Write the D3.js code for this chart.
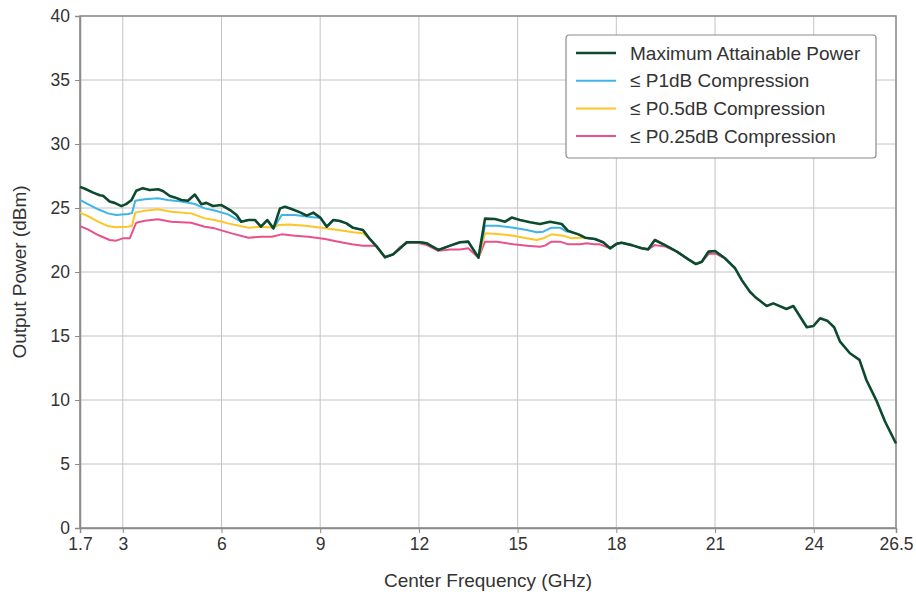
<!DOCTYPE html>
<html>
<head>
<meta charset="utf-8">
<script src="https://cdn.jsdelivr.net/npm/d3@7"></script>
<style>
  body { margin: 0; background: #fff; }
  svg { font-family: Arial, "Liberation Sans", sans-serif; }
  .grid line { stroke: #c4c4c4; stroke-width: 1; }
  .axis text { fill: #333; font-size: 17.5px; }
  .axis path, .axis line { stroke: #8c8c8c; }
</style>
</head>
<body>
<svg width="916" height="592"></svg>
<script>
// Data
const xTicks = [1.7, 3, 6, 9, 12, 15, 18, 21, 24, 26.5];
const yTicks = [0, 5, 10, 15, 20, 25, 30, 35, 40];

const maxFreq = [1.7, 1.85, 2.1, 2.3, 2.4, 2.6, 2.75, 2.96, 3.1, 3.26, 3.41, 3.61, 3.82, 4.07, 4.22, 4.43, 4.58, 4.78, 4.98, 5.19,
  5.39, 5.54, 5.74, 6.0, 6.3, 6.46, 6.6, 6.82, 7.02, 7.2, 7.39, 7.58, 7.78, 7.93, 8.13, 8.39, 8.59, 8.79, 9.0, 9.2,
  9.4, 9.6, 9.8, 10.0, 10.3, 10.5, 10.72, 10.97, 11.22, 11.43, 11.63, 11.83, 12.03, 12.24, 12.59, 12.95, 13.25, 13.5, 13.81, 14.01,
  14.31, 14.62, 14.82, 15.07, 15.38, 15.68, 15.99, 16.34, 16.54, 16.85, 17.05, 17.35, 17.6, 17.81, 18.01, 18.16, 18.47, 18.77, 18.97, 19.17,
  19.48, 19.84, 20.19, 20.42, 20.6, 20.8, 21.0, 21.3, 21.61, 21.81, 22.06, 22.21, 22.57, 22.77, 23.17, 23.38, 23.79, 23.99, 24.19, 24.41,
  24.62, 24.8, 25.1, 25.39, 25.6, 25.92, 26.17, 26.5];
const maxPower = [26.65, 26.5, 26.2, 26.0, 25.95, 25.5, 25.4, 25.15, 25.3, 25.6, 26.35, 26.55, 26.4, 26.46, 26.33, 25.94, 25.83, 25.63, 25.57, 26.05,
  25.3, 25.4, 25.16, 25.23, 24.77, 24.45, 23.93, 24.06, 24.06, 23.54, 24.06, 23.41, 24.97, 25.1, 24.92, 24.66, 24.4, 24.64, 24.25, 23.54,
  24.06, 23.98, 23.8, 23.45, 23.28, 22.6, 21.98, 21.15, 21.38, 21.85, 22.32, 22.32, 22.32, 22.24, 21.72, 22.06, 22.32, 22.37, 21.12, 24.17,
  24.14, 23.93, 24.25, 24.06, 23.88, 23.75, 23.93, 23.75, 23.2, 22.94, 22.68, 22.58, 22.32, 21.85, 22.2, 22.29, 22.1, 21.85, 21.77, 22.5,
  22.1, 21.59, 20.99, 20.62, 20.8, 21.59, 21.64, 21.07, 20.29, 19.38, 18.46, 18.07, 17.34, 17.55, 17.11, 17.34, 15.68, 15.78, 16.38, 16.2,
  15.68, 14.56, 13.65, 13.13, 11.56, 9.87, 8.3, 6.6];

const p1Freq = [1.7, 1.94, 2.25, 2.55, 2.8, 3.16, 3.28, 3.38, 3.67, 4.07, 4.37, 4.78, 5.19, 5.49, 5.79, 6.2, 6.51, 6.6, 6.82, 7.02,
  7.2, 7.39, 7.58, 7.83, 8.23, 8.84, 9.0, 9.2, 9.4, 9.6, 9.8, 10.0, 10.3, 10.5, 10.72, 10.97, 11.22, 11.43, 11.63, 11.83,
  12.03, 12.24, 12.59, 12.95, 13.25, 13.5, 13.81, 14.01, 14.37, 14.87, 15.28, 15.58, 15.78, 16.03, 16.29, 16.49, 16.54, 16.85, 17.05, 17.35,
  17.6, 17.81, 18.01, 18.16, 18.47, 18.77, 18.97, 19.17, 19.48, 19.84, 20.19, 20.42, 20.6, 20.8, 21.0, 21.3];
const p1Power = [25.63, 25.31, 24.9, 24.58, 24.45, 24.53, 24.6, 25.57, 25.68, 25.76, 25.63, 25.5, 25.31, 24.97, 24.8, 24.5, 24.06, 23.93, 24.06, 24.06,
  23.54, 24.06, 23.41, 24.45, 24.45, 24.25, 24.25, 23.54, 24.06, 23.98, 23.8, 23.45, 23.28, 22.6, 21.98, 21.15, 21.38, 21.85, 22.32, 22.32,
  22.32, 22.24, 21.72, 22.06, 22.32, 22.37, 21.12, 23.62, 23.62, 23.46, 23.28, 23.1, 23.15, 23.46, 23.46, 23.15, 23.2, 22.94, 22.68, 22.58,
  22.32, 21.85, 22.2, 22.29, 22.1, 21.85, 21.77, 22.5, 22.1, 21.59, 20.99, 20.62, 20.8, 21.59, 21.64, 21.07];

const p05Freq = [1.7, 1.94, 2.25, 2.55, 2.8, 3.16, 3.28, 3.38, 3.67, 4.07, 4.47, 5.08, 5.49, 5.79, 6.2, 6.82, 7.23, 7.58, 7.73, 8.03,
  8.54, 9.05, 9.55, 10.0, 10.3, 10.5, 10.72, 10.97, 11.22, 11.43, 11.63, 11.83, 12.03, 12.24, 12.59, 12.95, 13.25, 13.5, 13.81, 14.01,
  14.47, 14.87, 15.28, 15.58, 15.78, 16.03, 16.38, 16.64, 16.9, 17.05, 17.35, 17.6, 17.81, 18.01, 18.16, 18.47, 18.77, 18.97, 19.17, 19.48,
  19.84, 20.19, 20.42, 20.6, 20.8, 21.0, 21.3];
const p05Power = [24.64, 24.37, 23.93, 23.59, 23.49, 23.54, 23.6, 24.64, 24.79, 24.9, 24.71, 24.58, 24.19, 24.06, 23.8, 23.46, 23.54, 23.46, 23.67, 23.72,
  23.62, 23.46, 23.28, 23.1, 23.02, 22.6, 21.98, 21.15, 21.38, 21.85, 22.32, 22.32, 22.32, 22.24, 21.72, 22.06, 22.32, 22.37, 21.12, 23.02,
  22.94, 22.84, 22.63, 22.5, 22.63, 22.94, 22.84, 22.63, 22.68, 22.68, 22.58, 22.32, 21.85, 22.2, 22.29, 22.1, 21.85, 21.77, 22.5, 22.1,
  21.59, 20.99, 20.62, 20.8, 21.59, 21.64, 21.07];

const p025Freq = [1.7, 1.94, 2.25, 2.6, 2.8, 3.0, 3.21, 3.41, 3.67, 4.07, 4.47, 5.08, 5.49, 5.79, 6.31, 6.82, 7.23, 7.53, 7.83, 8.23,
  8.64, 9.15, 9.55, 9.96, 10.3, 10.61, 10.72, 10.97, 11.22, 11.43, 11.63, 11.83, 12.03, 12.24, 12.59, 12.95, 13.25, 13.5, 13.81, 14.01,
  14.37, 14.87, 15.28, 15.68, 15.83, 16.03, 16.29, 16.54, 16.9, 17.1, 17.31, 17.5, 17.81, 18.01, 18.16, 18.47, 18.77, 18.97, 19.17, 19.48,
  19.84, 20.19, 20.42, 20.6, 20.8, 21.0, 21.3];
const p025Power = [23.59, 23.33, 22.89, 22.5, 22.45, 22.63, 22.63, 23.85, 24.01, 24.12, 23.93, 23.85, 23.54, 23.41, 23.02, 22.68, 22.76, 22.76, 22.94, 22.84,
  22.76, 22.58, 22.37, 22.16, 22.06, 22.06, 21.98, 21.15, 21.38, 21.95, 22.25, 22.3, 22.25, 22.1, 21.65, 21.75, 21.75, 21.85, 21.12, 22.37,
  22.37, 22.16, 22.06, 21.98, 22.06, 22.37, 22.37, 22.16, 22.16, 22.24, 22.16, 22.16, 21.85, 22.2, 22.29, 22.1, 21.85, 21.77, 22.1, 22.0,
  21.59, 20.99, 20.62, 20.8, 21.4, 21.45, 21.07];

const seriesNames = ["Maximum Attainable Power", "\u2264 P1dB Compression", "\u2264 P0.5dB Compression", "\u2264 P0.25dB Compression"];
const seriesColors = ["#0d4a2d", "#3db5e6", "#ffc425", "#e8528c"];

const series = [
  { name: seriesNames[3], color: seriesColors[3], width: 2, freq: p025Freq, power: p025Power },
  { name: seriesNames[2], color: seriesColors[2], width: 2, freq: p05Freq, power: p05Power },
  { name: seriesNames[1], color: seriesColors[1], width: 2, freq: p1Freq, power: p1Power },
  { name: seriesNames[0], color: seriesColors[0], width: 2.6, freq: maxFreq, power: maxPower }
];

const svg = d3.select("svg");
const margin = { left: 80, right: 20, top: 16, bottom: 64 };
const W = 916, H = 592;
const innerW = W - margin.left - margin.right;
const innerH = H - margin.top - margin.bottom;

const x = d3.scaleLinear().domain([1.7, 26.5]).range([0, innerW]);
const y = d3.scaleLinear().domain([0, 40]).range([innerH, 0]);

const g = svg.append("g").attr("transform", `translate(${margin.left},${margin.top})`);

// grid
g.append("g").attr("class", "grid")
  .selectAll("line.v").data(xTicks).enter().append("line")
  .attr("x1", d => x(d)).attr("x2", d => x(d)).attr("y1", 0).attr("y2", innerH);
g.append("g").attr("class", "grid")
  .selectAll("line.h").data(yTicks).enter().append("line")
  .attr("x1", 0).attr("x2", innerW).attr("y1", d => y(d)).attr("y2", d => y(d));

// frame
g.append("rect").attr("width", innerW).attr("height", innerH)
  .attr("fill", "none").attr("stroke", "#8c8c8c").attr("stroke-width", 1.5);

// axes
const xAxis = g.append("g").attr("class", "axis")
  .attr("transform", `translate(0,${innerH})`)
  .call(d3.axisBottom(x).tickValues(xTicks).tickSize(5).tickPadding(3).tickFormat(d3.format("")));
const yAxis = g.append("g").attr("class", "axis")
  .call(d3.axisLeft(y).tickValues(yTicks).tickSize(5).tickPadding(5));
[xAxis, yAxis].forEach(a => {
  a.select(".domain").attr("stroke-width", 1.5);
  a.selectAll("text").attr("font-family", null).attr("font-size", null);
});
xAxis.selectAll("text").attr("dy", "0.8em");

// lines
const line = d3.line().x(d => x(d[0])).y(d => y(d[1]));
series.forEach(s => {
  g.append("path")
    .datum(s.freq.map((f, i) => [f, s.power[i]]))
    .attr("fill", "none")
    .attr("stroke", s.color)
    .attr("stroke-width", s.width)
    .attr("stroke-linejoin", "round")
    .attr("d", line);
});

// axis titles
svg.append("text")
  .attr("x", margin.left + innerW / 2).attr("y", 587)
  .attr("text-anchor", "middle").attr("font-size", 19).attr("fill", "#333")
  .text("Center Frequency (GHz)");
svg.append("text")
  .attr("transform", `translate(26,${margin.top + innerH / 2}) rotate(-90)`)
  .attr("text-anchor", "middle").attr("font-size", 19).attr("fill", "#333")
  .text("Output Power (dBm)");

// legend
const legend = svg.append("g").attr("transform", "translate(566,35)");
legend.append("rect").attr("width", 310).attr("height", 123).attr("rx", 3)
  .attr("fill", "#fff").attr("stroke", "#8c8c8c").attr("stroke-width", 1.2);
seriesNames.forEach((name, i) => {
  const row = legend.append("g").attr("transform", `translate(0,${18 + i * 27.7})`);
  row.append("line").attr("x1", 10).attr("x2", 50).attr("y1", 0).attr("y2", 0)
    .attr("stroke", seriesColors[i]).attr("stroke-width", i === 0 ? 2.6 : 2);
  row.append("text").attr("x", 64).attr("y", 0).attr("dy", "0.35em")
    .attr("font-size", 19).attr("fill", "#333").text(name);
});
</script>
</body>
</html>
